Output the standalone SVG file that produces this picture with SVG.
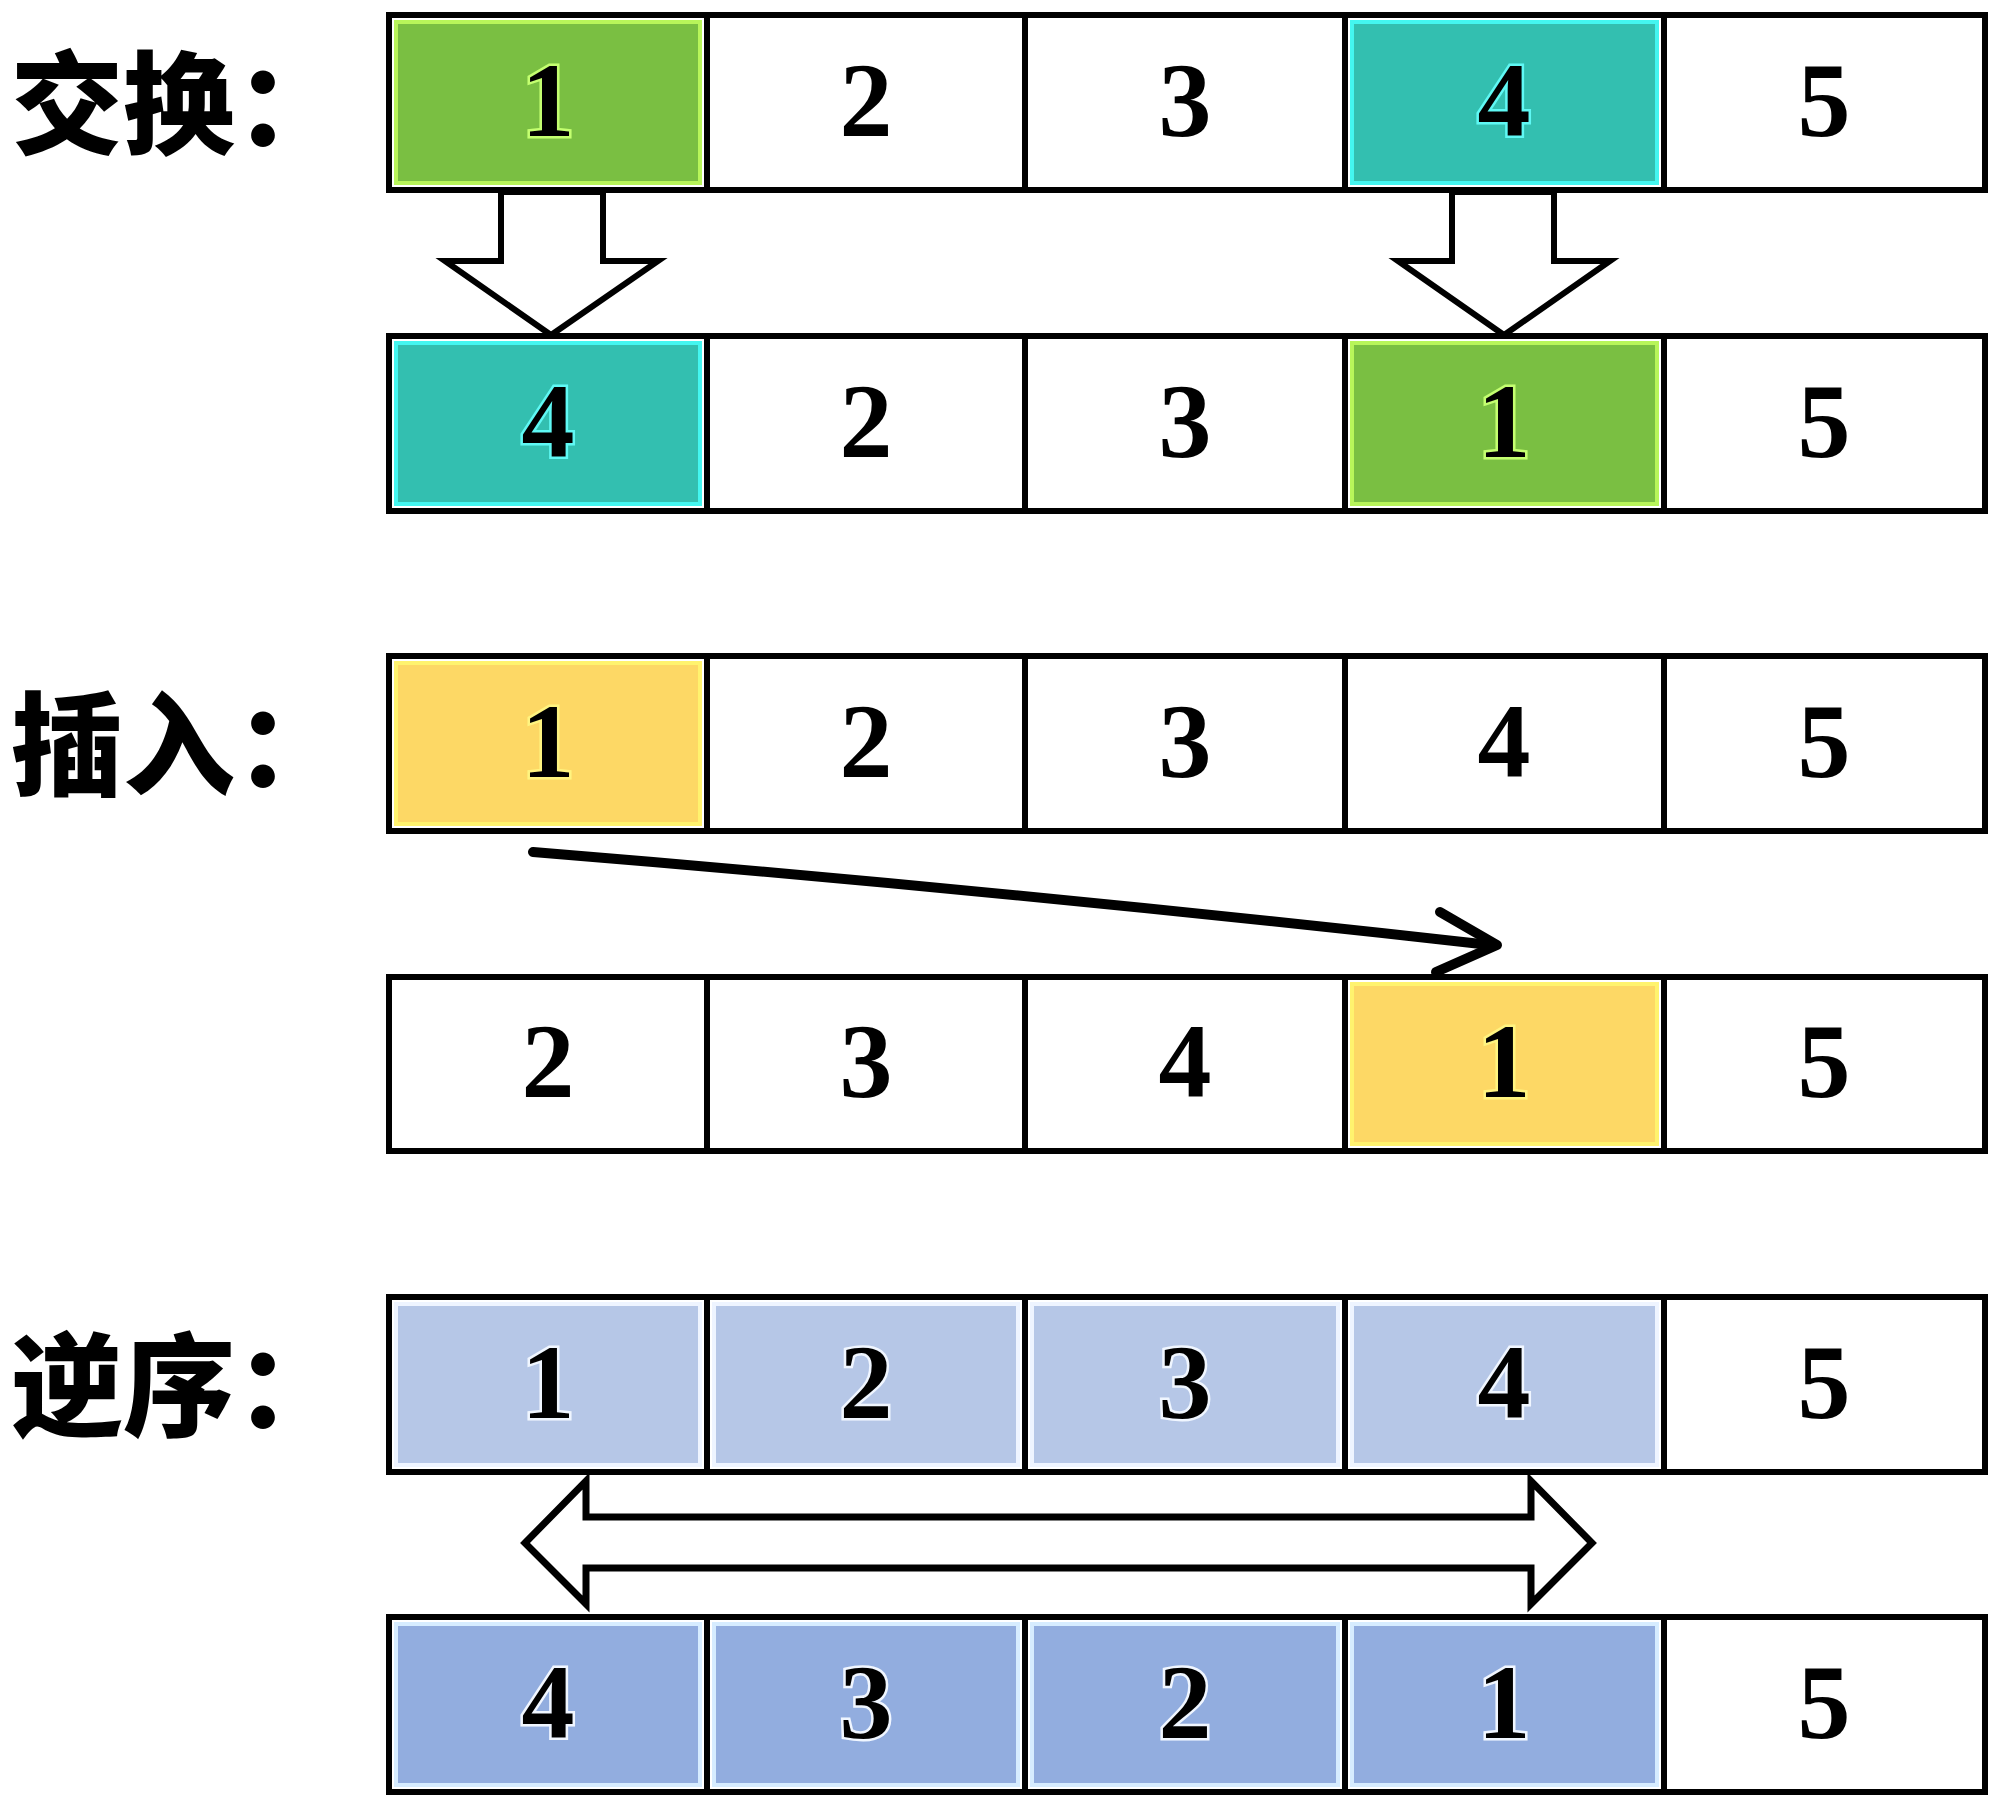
<svg xmlns="http://www.w3.org/2000/svg" width="1999" height="1806" viewBox="0 0 1999 1806">
<style>
.cell{fill:#ffffff;stroke:#000000;stroke-width:6;}
.num{font-family:"Liberation Serif","Times New Roman",serif;font-weight:bold;font-size:106px;text-anchor:middle;fill:#000000;}
.lbl{font-family:"Noto Sans CJK SC","Noto Sans CJK JP",sans-serif;font-weight:900;font-size:112px;fill:#000000;}
.green{fill:#7abf42;stroke:#b8f55a;stroke-width:4;}
.teal{fill:#33bfb0;stroke:#44f6f0;stroke-width:4;}
.yellow{fill:#fdd865;stroke:#fff36e;stroke-width:4;}
.lblue{fill:#b6c7e7;stroke:#eef4ff;stroke-width:4;}
.mblue{fill:#92addf;stroke:#d6ecff;stroke-width:4;}
.gGreen{stroke:#c4ff70;stroke-width:5;paint-order:stroke;}
.gTeal{stroke:#5ff8f4;stroke-width:5;paint-order:stroke;}
.gYellow{stroke:#fff480;stroke-width:5;paint-order:stroke;}
.gBlue{stroke:#f0f6ff;stroke-width:5;paint-order:stroke;}
.blk{fill:#ffffff;stroke:#000000;stroke-width:6;stroke-linejoin:miter;}
</style>
<rect width="1999" height="1806" fill="#ffffff"/>

<g id="labels">
<text class="lbl" x="11" y="146">交换：</text>
<text class="lbl" x="11" y="787">插入：</text>
<text class="lbl" x="11" y="1428">逆序：</text>
</g>

<!-- Row 1 -->
<g id="row1">
<g id="r1c1"><rect class="cell" x="389" y="15" width="318" height="175"/><rect class="green" x="396" y="22" width="304" height="161"/><text class="num gGreen" x="548" y="136">1</text></g>
<g id="r1c2"><rect class="cell" x="707" y="15" width="318" height="175"/><text class="num" x="866" y="136">2</text></g>
<g id="r1c3"><rect class="cell" x="1025" y="15" width="320" height="175"/><text class="num" x="1185" y="136">3</text></g>
<g id="r1c4"><rect class="cell" x="1345" y="15" width="319" height="175"/><rect class="teal" x="1352" y="22" width="305" height="161"/><text class="num gTeal" x="1504" y="136">4</text></g>
<g id="r1c5"><rect class="cell" x="1664" y="15" width="321" height="175"/><text class="num" x="1824" y="136">5</text></g>
</g>

<!-- Row 2 -->
<g id="row2">
<g id="r2c1"><rect class="cell" x="389" y="336" width="318" height="175"/><rect class="teal" x="396" y="343" width="304" height="161"/><text class="num gTeal" x="548" y="457">4</text></g>
<g id="r2c2"><rect class="cell" x="707" y="336" width="318" height="175"/><text class="num" x="866" y="457">2</text></g>
<g id="r2c3"><rect class="cell" x="1025" y="336" width="320" height="175"/><text class="num" x="1185" y="457">3</text></g>
<g id="r2c4"><rect class="cell" x="1345" y="336" width="319" height="175"/><rect class="green" x="1352" y="343" width="305" height="161"/><text class="num gGreen" x="1504" y="457">1</text></g>
<g id="r2c5"><rect class="cell" x="1664" y="336" width="321" height="175"/><text class="num" x="1824" y="457">5</text></g>
</g>

<!-- Row 3 -->
<g id="row3">
<g id="r3c1"><rect class="cell" x="389" y="656" width="318" height="175"/><rect class="yellow" x="396" y="663" width="304" height="161"/><text class="num gYellow" x="548" y="777">1</text></g>
<g id="r3c2"><rect class="cell" x="707" y="656" width="318" height="175"/><text class="num" x="866" y="777">2</text></g>
<g id="r3c3"><rect class="cell" x="1025" y="656" width="320" height="175"/><text class="num" x="1185" y="777">3</text></g>
<g id="r3c4"><rect class="cell" x="1345" y="656" width="319" height="175"/><text class="num" x="1504" y="777">4</text></g>
<g id="r3c5"><rect class="cell" x="1664" y="656" width="321" height="175"/><text class="num" x="1824" y="777">5</text></g>
</g>

<!-- Row 4 -->
<g id="row4">
<g id="r4c1"><rect class="cell" x="389" y="977" width="318" height="174"/><text class="num" x="548" y="1097">2</text></g>
<g id="r4c2"><rect class="cell" x="707" y="977" width="318" height="174"/><text class="num" x="866" y="1097">3</text></g>
<g id="r4c3"><rect class="cell" x="1025" y="977" width="320" height="174"/><text class="num" x="1185" y="1097">4</text></g>
<g id="r4c4"><rect class="cell" x="1345" y="977" width="319" height="174"/><rect class="yellow" x="1352" y="984" width="305" height="160"/><text class="num gYellow" x="1504" y="1097">1</text></g>
<g id="r4c5"><rect class="cell" x="1664" y="977" width="321" height="174"/><text class="num" x="1824" y="1097">5</text></g>
</g>

<!-- Row 5 -->
<g id="row5">
<g id="r5c1"><rect class="cell" x="389" y="1297" width="318" height="175"/><rect class="lblue" x="396" y="1304" width="304" height="161"/><text class="num gBlue" x="548" y="1418">1</text></g>
<g id="r5c2"><rect class="cell" x="707" y="1297" width="318" height="175"/><rect class="lblue" x="714" y="1304" width="304" height="161"/><text class="num gBlue" x="866" y="1418">2</text></g>
<g id="r5c3"><rect class="cell" x="1025" y="1297" width="320" height="175"/><rect class="lblue" x="1032" y="1304" width="306" height="161"/><text class="num gBlue" x="1185" y="1418">3</text></g>
<g id="r5c4"><rect class="cell" x="1345" y="1297" width="319" height="175"/><rect class="lblue" x="1352" y="1304" width="305" height="161"/><text class="num gBlue" x="1504" y="1418">4</text></g>
<g id="r5c5"><rect class="cell" x="1664" y="1297" width="321" height="175"/><text class="num" x="1824" y="1418">5</text></g>
</g>

<!-- Row 6 -->
<g id="row6">
<g id="r6c1"><rect class="cell" x="389" y="1617" width="318" height="175"/><rect class="mblue" x="396" y="1624" width="304" height="161"/><text class="num gBlue" x="548" y="1738">4</text></g>
<g id="r6c2"><rect class="cell" x="707" y="1617" width="318" height="175"/><rect class="mblue" x="714" y="1624" width="304" height="161"/><text class="num gBlue" x="866" y="1738">3</text></g>
<g id="r6c3"><rect class="cell" x="1025" y="1617" width="320" height="175"/><rect class="mblue" x="1032" y="1624" width="306" height="161"/><text class="num gBlue" x="1185" y="1738">2</text></g>
<g id="r6c4"><rect class="cell" x="1345" y="1617" width="319" height="175"/><rect class="mblue" x="1352" y="1624" width="305" height="161"/><text class="num gBlue" x="1504" y="1738">1</text></g>
<g id="r6c5"><rect class="cell" x="1664" y="1617" width="321" height="175"/><text class="num" x="1824" y="1738">5</text></g>
</g>

<g id="connectors">
<polygon class="blk" points="501,192 501,261 445,261 551,335 658,261 603,261 603,192"/>
<polygon class="blk" points="1452,192 1452,261 1398,261 1504,335 1610,261 1554,261 1554,192"/>
<path d="M533,852 Q1000,890 1490,945" fill="none" stroke="#000000" stroke-width="10" stroke-linecap="round"/>
<polyline points="1440,912 1497,945 1436,972" fill="none" stroke="#000000" stroke-width="10" stroke-linecap="round" stroke-linejoin="round"/>
<polygon fill="#ffffff" stroke="#000000" stroke-width="7" stroke-linejoin="miter" points="525,1543 586,1481 586,1517 1531,1517 1531,1481 1592,1543 1531,1604 1531,1568 586,1568 586,1604"/>
</g>
</svg>
